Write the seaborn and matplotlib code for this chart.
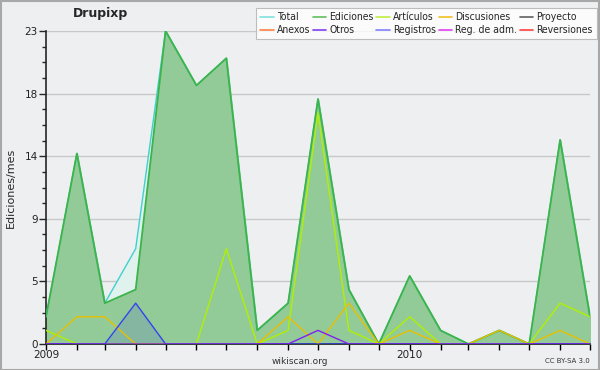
import pandas as pd
import numpy as np
import seaborn as sns
import matplotlib
matplotlib.use("Agg")
import matplotlib.pyplot as plt
from matplotlib.lines import Line2D
from matplotlib.font_manager import FontProperties

# monthly edit counts, Jan 2009 - Jul 2010
months = pd.date_range("2009-01-01", periods=19, freq="MS")
total = [2, 14, 3, 7, 23, 19, 21, 1, 3, 18, 4, 0, 5, 1, 0, 1, 0, 15, 2]
ediciones = [2, 14, 3, 4, 23, 19, 21, 1, 3, 18, 4, 0, 5, 1, 0, 1, 0, 15, 2]
articulos = [1, 0, 0, 0, 0, 0, 7, 0, 1, 17, 1, 0, 2, 0, 0, 0, 0, 3, 2]
discusiones = [0, 2, 2, 0, 0, 0, 0, 0, 2, 0, 3, 0, 1, 0, 0, 1, 0, 1, 0]
registros = [0, 0, 0, 3, 0, 0, 0, 0, 0, 0, 0, 0, 0, 0, 0, 0, 0, 0, 0]
otros = [0, 0, 0, 0, 0, 0, 0, 0, 0, 1, 0, 0, 0, 0, 0, 0, 0, 0, 0]

legend_names = ["Total", "Ediciones", "Artículos", "Discusiones", "Proyecto",
                "Anexos", "Otros", "Registros", "Reg. de adm.", "Reversiones"]
legend_colors = ["#80e0e0", "#60c060", "#c0f040", "#f0c020", "#606060",
                 "#ff8040", "#8040f0", "#8080ff", "#e040f0", "#ff4040"]

bg = "#eeeff0"
sns.set_style("ticks", {"axes.facecolor": bg, "figure.facecolor": bg})
plt.rcParams["font.family"] = ["DejaVu Sans"]

fig = plt.figure(figsize=(6, 3.7), dpi=100)
ax = fig.add_axes([46 / 600, 26 / 370, 544 / 600, 313 / 370])

#fills first: total (light cyan), ediciones (green), registros (blue tint)
ax.fill_between(months, total, color="#dff2ee", zorder=1)
ax.fill_between(months, ediciones, color="#93cb98", zorder=2)
ax.fill_between(months, registros, color="#3040e0", alpha=0.15, zorder=3, lw=0)

sns.lineplot(x=months, y=total, color="#40d0d0", lw=1, ax=ax, zorder=4)
sns.lineplot(x=months, y=ediciones, color="#3cb44a", lw=1.3, ax=ax, zorder=5)
sns.lineplot(x=months, y=articulos, color="#b0f000", lw=1, ax=ax, zorder=6)
sns.lineplot(x=months, y=discusiones, color="#e8c000", lw=1, ax=ax, zorder=7)
sns.lineplot(x=months, y=registros, color="#3344ee", lw=1, ax=ax, zorder=8)
sns.lineplot(x=months, y=otros, color="#8020ee", lw=1, ax=ax, zorder=8)

ax.set_xlim(months[0], months[-1])
ax.set_ylim(0, 23)
major = np.linspace(0, 23, 6)
ax.set_yticks(major)
ax.set_yticklabels([str(int(round(v))) for v in major], fontsize=7.5, color="#222222")
ax.set_yticks(np.linspace(0, 23, 21), minor=True)
ax.yaxis.grid(True, which="major", color="#c8c8c8", lw=1)
ax.set_axisbelow(True)

ax.set_xticks(months)
ax.set_xticklabels([d.strftime("%Y") if d.month == 1 else "" for d in months],
                   fontsize=7.5, color="#222222")
ax.tick_params(axis="x", length=4, width=1, pad=0, color="black")
ax.tick_params(axis="y", which="major", length=5, width=1, pad=1)
ax.tick_params(axis="y", which="minor", length=3, width=1)

for s in ["top", "right"]:
    ax.spines[s].set_visible(False)
ax.spines["left"].set_linewidth(1.2)
ax.spines["bottom"].set_linewidth(1.2)
ax.set_ylabel("Ediciones/mes", fontsize=8, labelpad=6)
ax.set_xlabel("")

handles = [Line2D([], [], color=c, lw=1.2) for c in legend_colors]
order = [0, 5, 1, 6, 2, 7, 3, 8, 4, 9]
legfont = FontProperties(family="DejaVu Sans", stretch="condensed", size=7.5)
leg = fig.legend([handles[i] for i in order], [legend_names[i] for i in order],
                 ncol=5, loc="upper right", bbox_to_anchor=(597 / 600, 1 - 8 / 370),
                 prop=legfont, frameon=True, fancybox=False, handlelength=1.3,
                 handletextpad=0.3, columnspacing=0.25, labelspacing=0.3,
                 borderpad=0.4, borderaxespad=0)
leg.get_frame().set_edgecolor("#b0b0b0")
leg.get_frame().set_facecolor("white")
leg.get_frame().set_linewidth(0.8)

fig.text(100 / 600, 1 - 14 / 370, "Drupixp", fontsize=9, fontweight="bold",
         ha="center", va="center")
fig.text(300 / 600, 1 - 361 / 370, "wikiscan.org", fontsize=6.5, ha="center",
         va="center", color="#333333")
fig.text(590 / 600, 1 - 361 / 370, "CC BY-SA 3.0", fontsize=5, ha="right",
         va="center", color="#333333")

fig.patches.append(plt.Rectangle((0.001, 0.001), 0.998, 0.997, transform=fig.transFigure,
                                 fill=False, edgecolor="#a8a8a8", lw=1.5))

fig.savefig("out.png", dpi=100, facecolor=bg)
